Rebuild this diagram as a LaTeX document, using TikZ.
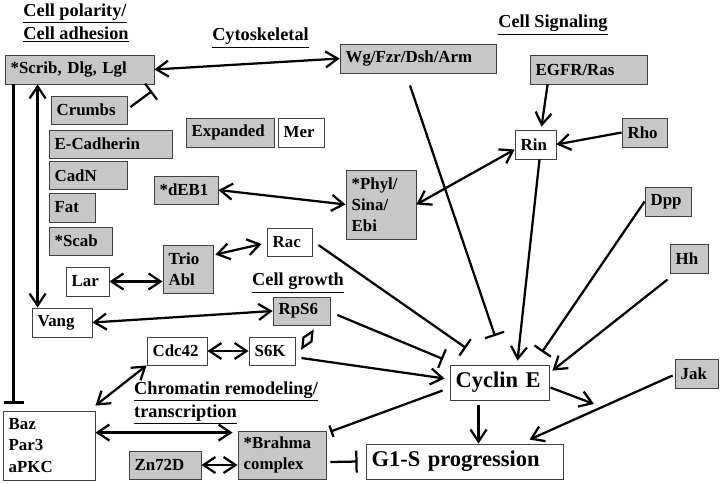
\documentclass[tikz,border=0pt]{standalone}
\usepackage{fontspec}
\setmainfont{Liberation Serif}
\usepackage{tikz}
\usetikzlibrary{positioning,shapes,arrows.meta,calc}
\tikzstyle{gbox}=[draw=black!75, line width=0.6pt, fill=black!22, inner xsep=4pt, inner ysep=0pt, font=\bfseries\fontsize{12}{15}\selectfont, align=left]
\tikzstyle{wbox}=[gbox, fill=white]
\tikzstyle{big}=[font=\bfseries\fontsize{16}{18}\selectfont]
\tikzstyle{heading}=[font=\bfseries\fontsize{13}{16.5}\selectfont, align=left, inner sep=0pt]
\tikzstyle{act}=[line width=1.6pt, -{Straight Barb[length=3mm,width=4mm]}]
\tikzstyle{bi}=[line width=1.6pt, {Straight Barb[length=3mm,width=4mm]}-{Straight Barb[length=3mm,width=4mm]}]
\tikzstyle{inh}=[line width=1.6pt, -{Bar[width=5mm]}]
\tikzset{sz/.style 2 args={text width=#1*0.025cm-8pt, minimum height=#2*0.025cm}}

\begin{document}
\begin{tikzpicture}[x=0.025cm, y=-0.025cm]
        \useasboundingbox (0,0) rectangle (720,483);

        % headings
        \node[heading] (tpol) at (76,23) {\underline{Cell polarity/}\\\underline{Cell adhesion}};
        \node[heading] (tcyto) at (260.5,38) {\underline{Cytoskeletal}};
        \node[heading] (tsig) at (553,25) {\underline{Cell Signaling}};
        \node[heading] (tgrowth) at (298,283) {\underline{Cell growth}};
        \node[heading] (tchrom) at (226,403) {\underline{Chromatin remodeling/}\\\underline{transcription}};

        % polarity / adhesion
        \node[gbox, sz={149}{29}] (scrib) at (79.5,69.5) {*Scrib, Dlg, Lgl};
        \node[gbox, sz={76}{28}] (crumbs) at (89,110) {Crumbs};
        \node[gbox, sz={123}{28}] (ecad) at (110.5,144) {E-Cadherin};
        \node[gbox, sz={78}{28}] (cadn) at (88,175.5) {CadN};
        \node[gbox, sz={46}{29}] (fat) at (72,207.5) {Fat};
        \node[gbox, sz={63}{28}] (scab) at (80.5,241) {*Scab};
        \node[wbox, sz={43}{29}] (lar) at (87.5,281.5) {Lar};
        \node[wbox, sz={60}{29}] (vang) at (62,322.5) {Vang};
        \node[wbox, sz={92}{69}] (baz) at (49,445.5) {Baz\\Par3\\aPKC};

        % cytoskeletal
        \node[gbox, sz={88}{29}] (expanded) at (230,132.5) {Expanded};
        \node[wbox, sz={46}{29}] (mer) at (301,132.5) {Mer};
        \node[gbox, sz={64}{28}] (deb) at (186,190) {*dEB1};
        \node[gbox, sz={70}{69}] (phyl) at (381,204.5) {*Phyl/\\Sina/\\Ebi};
        \node[gbox, sz={50}{48}] (trio) at (188,269) {Trio\\Abl};
        \node[wbox, sz={45}{28}] (rac) at (289.5,242) {Rac};

        % signaling
        \node[gbox, sz={156}{29}] (wg) at (418,58.5) {Wg/Fzr/Dsh/Arm};
        \node[gbox, sz={117}{29}] (egfr) at (588.5,69.5) {EGFR/Ras};
        \node[wbox, sz={41}{29}] (rin) at (535.5,144.5) {Rin};
        \node[gbox, sz={45}{29}] (rho) at (644.5,132.5) {Rho};
        \node[gbox, sz={46}{29}] (dpp) at (668,201.5) {Dpp};
        \node[gbox, sz={38}{29}] (hh) at (689,258.5) {Hh};
        \node[gbox, sz={43}{29}] (jak) at (696.5,373.5) {Jak};

        % growth
        \node[gbox, sz={57}{28}] (rps) at (301.5,311) {RpS6};
        \node[wbox, sz={60}{28}] (cdc) at (177,351) {Cdc42};
        \node[wbox, sz={46}{28}] (s6k) at (272,351) {S6K};

        % chromatin
        \node[gbox, sz={88}{48}] (brahma) at (282,455) {*Brahma\\complex};
        \node[gbox, sz={72}{28}] (zn) at (165,465) {Zn72D};

        % cell cycle
        \node[wbox, big, sz={99}{35}] (cyce) at (499.5,382.5) {Cyclin E};
        \node[wbox, big, sz={197}{35}] (gones) at (464.5,461.5) {G1-S progression};

        \coordinate (crumbsT) at (152,91);
        \coordinate (wgT) at (495,336);
        \coordinate (dppT) at (542,352);
        \coordinate (racT) at (466,348);
        \coordinate (rpsT) at (443,359);
        \coordinate (cyceOut) at (594,404);

        \draw[bi] (scrib.east) -- (wg.west);
        \draw[inh] ($(crumbs.east)+(3,-3)$) -- (crumbsT);
        \draw[inh] ($(scrib.south west)+(9,0)$) -- ($(baz.north west)+(11,-7)$);
        \draw[bi] ($(scrib.south west)+(33,0)$) -- ($(vang.north west)+(6,0)$);
        \draw[bi] (deb.east) -- (phyl.west);
        \draw[bi] (phyl.east) -- ($(rin.west)+(0,5)$);
        \draw[act] ($(egfr.south west)+(18,0)$) -- ($(rin.north)+(6,-3)$);
        \draw[act] (rho.west) -- (rin.east);
        \draw[act] ($(rin.south)+(4,0)$) -- ($(cyce.north)+(18,-4)$);
        \draw[inh] ($(wg.south)+(-8,12)$) -- (wgT);
        \draw[inh] (dpp.west) -- (dppT);
        \draw[act] ($(hh.south west)+(-2,6)$) -- ($(cyce.north east)+(3,6)$);
        \draw[act] ($(jak.west)+(-2,2)$) -- ($(gones.north)+(65,-4)$);
        \draw[act] ($(cyce.east)+(1,5)$) -- (cyceOut);
        \draw[act] ($(cyce.south)+(-21,5)$) -- ($(gones.north)+(14,0)$);
        \draw[line width=1.6pt, -{Bar[width=3mm]}] ($(cyce.west)+(-7,8)$) -- ($(brahma.north east)+(4,1)$);
        \draw[line width=1.6pt, -{Bar[width=5.5mm]}] ($(brahma.east)+(4,7)$) -- ($(gones.west)+(-8,0)$);
        \draw[inh] ($(rac.east)+(6,3)$) -- (racT);
        \draw[inh] ($(rps.east)+(7,4)$) -- (rpsT);
        \draw[act] ($(s6k.east)+(6,7)$) -- ($(cyce.west)+(-5,-4)$);
        \draw[bi] ($(trio.north east)+(2,10)$) -- ($(rac.west)+(-5,2)$);
        \draw[bi] (lar.east) -- (lar.east -| trio.west);
        \draw[bi] (vang.east) -- (rps.west);
        \draw[bi] (cdc.east) -- (s6k.west);
        \draw[bi] (cdc.south west) -- ($(baz.north east)+(0,-5)$);
        \draw[bi] ($(baz.north east)+(0,22)$) -- ($(brahma.north west)+(-5,2)$);
        \draw[bi] (zn.east) -- (zn.east -| brahma.west);
        % RpS6 / S6K link
        \draw[line width=1.6pt, fill=white, line join=miter] ($(s6k.north east)+(7,11)$) -- ++(1,-10) -- ++(9,-6) -- ++(-1,10) -- cycle;
    \end{tikzpicture}
\end{document}
